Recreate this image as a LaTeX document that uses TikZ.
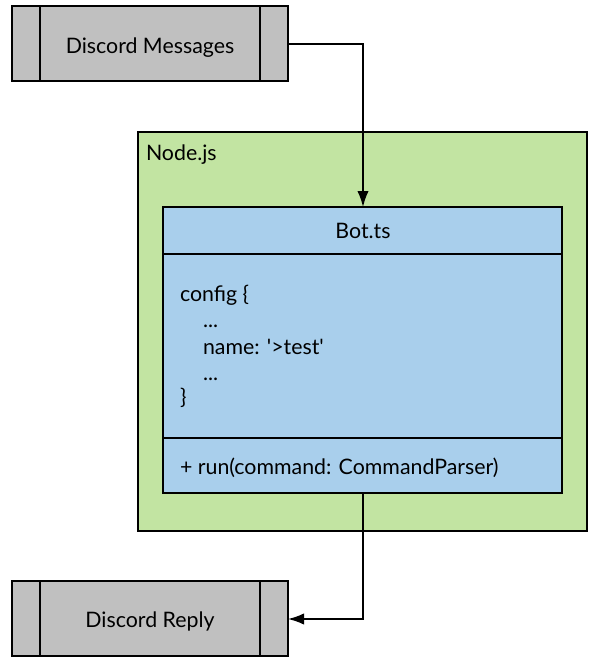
\documentclass[tikz,border=0pt]{standalone}
\usepackage{fontspec}
\setmainfont{Lato}
\usetikzlibrary{arrows.meta}
\definecolor{boxgray}{RGB}{192,192,192}
\definecolor{nodegreen}{RGB}{194,228,162}
\definecolor{botblue}{RGB}{169,207,236}
\begin{document}
\begin{tikzpicture}[x=0.75pt,y=-0.75pt,
  line width=1.5pt,
  io/.style={draw=black,fill=boxgray},
  lbl/.style={font=\fontsize{16}{19}\selectfont,inner sep=0pt},
  arr/.style={-{Latex[length=12pt,width=8.5pt]},line width=1.2pt}]
\useasboundingbox (0,0) rectangle (594,665);
% Discord Messages
\draw[io] (12,6) rectangle (288,81);
\draw (40,6) -- (40,81) (260,6) -- (260,81);
\node[lbl,anchor=base] (msg) at (150,53) {Discord Messages};
\coordinate (msgR) at (288,44);
% Discord Reply
\draw[io] (12,581) rectangle (288,656);
\draw (40,581) -- (40,656) (260,581) -- (260,656);
\node[lbl,anchor=base] (rep) at (150,627) {Discord Reply};
\coordinate (repR) at (288,619);
% Node.js container
\draw[fill=nodegreen] (138,132) rectangle (587,531);
\node[lbl,anchor=base west] (nodejs) at (145,160) {Node.js};
% Bot.ts class
\draw[fill=botblue] (163,207) rectangle (562,493);
\draw (163,254) -- (562,254);
\draw (163,438) -- (562,438);
\node[lbl,anchor=base] (bot) at (363,238) {Bot.ts};
\coordinate (botT) at (363,207);
\coordinate (botB) at (363,493);
\node[lbl,anchor=base west] (l1) at (179,301) {config \{};
\node[lbl,anchor=base west] (l2) at (202,327) {...};
\node[lbl,anchor=base west] (l3) at (202,354) {name: \textquotesingle>test\textquotesingle};
\node[lbl,anchor=base west] (l4) at (202,380) {...};
\node[lbl,anchor=base west] (l5) at (179,404) {\}};
\node[lbl,anchor=base west] (run) at (179,474) {+ run(command: CommandParser)};
% connectors
\draw[arr] (msgR) -| (botT);
\draw[arr] (botB) |- (repR);
\end{tikzpicture}
\end{document}
